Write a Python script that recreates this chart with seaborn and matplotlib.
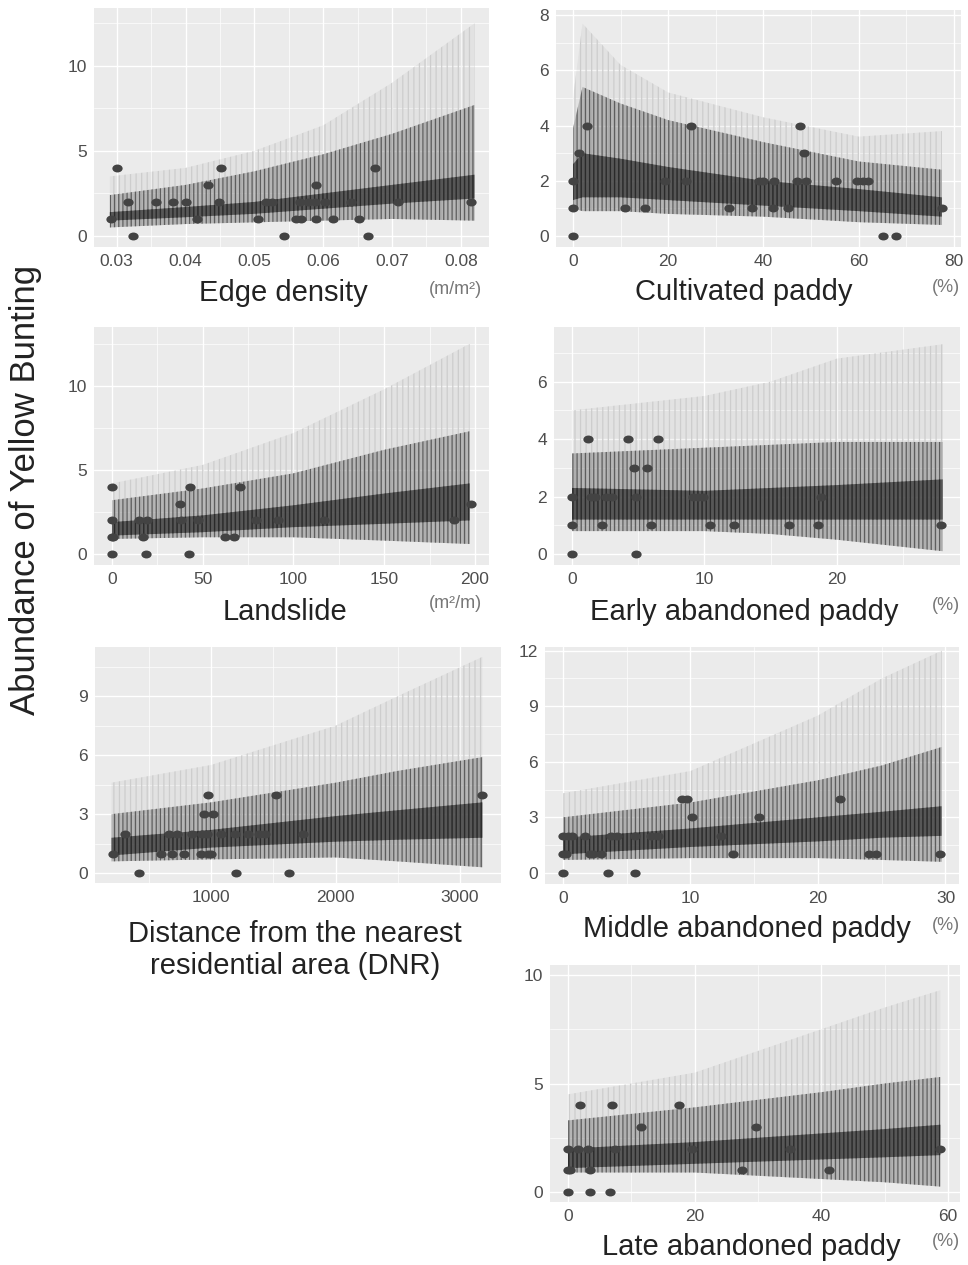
import matplotlib
matplotlib.use("Agg")
import matplotlib.pyplot as plt
from matplotlib.path import Path
from matplotlib.transforms import Affine2D
from matplotlib.ticker import AutoMinorLocator
import pandas as pd
import seaborn as sns

# ---------------------------------------------------------------
# Observed counts (points) read from the figure
# ---------------------------------------------------------------
edge_x = [0.0292, 0.0300, 0.0317, 0.0323, 0.0357, 0.0382, 0.0401, 0.0417, 0.0432, 0.0451,
          0.0449, 0.0506, 0.0517, 0.0526, 0.0543, 0.0560, 0.0568, 0.0566, 0.0578, 0.0589,
          0.0588, 0.0590, 0.0602, 0.0614, 0.0641, 0.0652, 0.0665, 0.0675, 0.0709, 0.0815]
edge_y = [1, 4, 2, 0, 2, 2, 2, 1, 3, 4,
          2, 1, 2, 2, 0, 1, 1, 2, 2, 3,
          2, 1, 2, 1, 2, 1, 0, 4, 2, 2]

cult_x = [0, 0, 0, 1.3, 2.9, 11.0, 15.2, 19.3, 23.8, 24.8, 32.7, 37.6, 39.1, 39.9,
          42.0, 42.2, 45.2, 47.0, 47.7, 48.6, 49.0, 55.3, 59.7, 60.9, 62.0, 65.1, 67.9, 77.5]
cult_y = [0, 1, 2, 3, 4, 1, 1, 2, 2, 4, 1, 1, 2, 2,
          1, 2, 1, 2, 4, 3, 2, 2, 2, 2, 2, 0, 0, 1]

land_x = [0, 0, 0, 0, 0.7, 15.1, 17.3, 19.1, 18.7, 37.5, 38.0, 42.4, 43.0, 47.6,
          62.3, 67.4, 70.5, 79.3, 91.3, 116.8, 188.4, 197.8]
land_y = [0, 1, 2, 4, 1, 2, 1, 2, 0, 3, 2, 0, 4, 2,
          1, 1, 4, 2, 2, 2, 2, 3]

early_x = [0, 0, 0, 1.2, 1.4, 1.7, 2.3, 2.6, 3.0, 4.2, 4.65, 4.8, 4.8, 5.7, 6.0, 6.5,
           9.1, 9.5, 9.9, 10.4, 12.2, 16.35, 18.6, 18.8, 27.9]
early_y = [0, 1, 2, 4, 2, 2, 1, 2, 2, 4, 3, 2, 0, 3, 1, 4,
           2, 2, 2, 1, 1, 1, 1, 2, 1]

dnr_x = [216, 312, 424, 601, 660, 684, 724, 786, 845, 922, 925, 944, 965, 979, 979,
         1013, 1003, 1078, 1201, 1193, 1300, 1388, 1434, 1522, 1627, 1737, 3179]
dnr_y = [1, 2, 0, 1, 2, 1, 2, 1, 2, 1, 2, 3, 2, 4, 1,
         3, 1, 2, 0, 2, 2, 2, 2, 4, 0, 2, 4]

mid_x = [0, 0, 0, 0.26, 0.4, 0.73, 1.75, 2.1, 2.35, 3.0, 3.5, 3.8, 4.25, 5.65, 5.65,
         6.9, 7.45, 9.35, 9.7, 10.1, 12.4, 13.3, 15.4, 21.7, 24.0, 24.55, 29.6]
mid_y = [0, 1, 2, 1, 2, 2, 2, 1, 1, 1, 0, 2, 2, 0, 2,
         2, 2, 4, 4, 3, 2, 1, 3, 4, 1, 1, 1]

late_x = [0, 0, 0.26, 0, 1.6, 1.85, 3.2, 3.4, 3.4, 6.7, 7.0, 7.4, 11.6, 17.5,
          19.6, 27.5, 29.7, 35.1, 41.2, 58.8]
late_y = [0, 1, 1, 2, 2, 4, 2, 1, 0, 0, 4, 2, 3, 4,
          2, 1, 3, 2, 1, 2]

# ---------------------------------------------------------------
# Predicted band envelopes (lower edge, core band, spike tops)
# ---------------------------------------------------------------
edge_bx = [0.029, 0.04, 0.05, 0.06, 0.07, 0.082]
edge_low = [0.5, 0.7, 0.8, 0.9, 1.0, 0.9]
edge_clo = [0.9, 1.1, 1.3, 1.6, 1.9, 2.2]
edge_chi = [1.4, 1.7, 2.0, 2.5, 3.0, 3.6]
edge_dtop = [2.4, 3.0, 3.8, 4.8, 6.0, 7.7]
edge_ftop = [3.5, 4.0, 5.0, 6.5, 9.0, 12.5]

cult_bx = [0, 2, 10, 20, 40, 60, 77.5]
cult_low = [1.0, 0.9, 0.9, 0.8, 0.7, 0.5, 0.4]
cult_clo = [1.3, 1.4, 1.4, 1.3, 1.1, 0.9, 0.7]
cult_chi = [2.6, 3.0, 2.8, 2.5, 2.0, 1.7, 1.4]
cult_dtop = [3.9, 5.4, 4.8, 4.2, 3.4, 2.7, 2.4]
cult_ftop = [5.0, 7.7, 6.2, 5.2, 4.3, 3.6, 3.8]

land_bx = [0, 50, 100, 150, 197]
land_low = [0.9, 1.0, 1.0, 0.8, 0.6]
land_clo = [1.1, 1.3, 1.6, 1.8, 2.0]
land_chi = [1.9, 2.3, 2.9, 3.6, 4.2]
land_dtop = [3.2, 3.9, 4.8, 6.2, 7.3]
land_ftop = [4.2, 5.3, 7.2, 9.8, 12.5]

early_bx = [0, 10, 15, 20, 28]
early_low = [0.8, 0.8, 0.7, 0.5, 0.1]
early_clo = [1.2, 1.2, 1.2, 1.2, 1.2]
early_chi = [2.3, 2.2, 2.3, 2.4, 2.6]
early_dtop = [3.5, 3.7, 3.8, 3.9, 3.9]
early_ftop = [5.0, 5.5, 6.0, 6.8, 7.3]

dnr_bx = [200, 1000, 2000, 2500, 3180]
dnr_low = [0.6, 0.7, 0.8, 0.6, 0.3]
dnr_clo = [0.9, 1.3, 1.6, 1.7, 1.8]
dnr_chi = [1.8, 2.2, 2.9, 3.2, 3.6]
dnr_dtop = [3.0, 3.6, 4.6, 5.2, 5.9]
dnr_ftop = [4.6, 5.5, 7.5, 9.0, 11.0]

mid_bx = [0, 10, 20, 25, 29.7]
mid_low = [0.7, 0.8, 0.8, 0.7, 0.6]
mid_clo = [1.0, 1.4, 1.7, 1.9, 2.0]
mid_chi = [1.9, 2.4, 3.0, 3.3, 3.6]
mid_dtop = [3.0, 3.8, 5.0, 5.8, 6.8]
mid_ftop = [4.3, 5.5, 8.5, 10.5, 12.0]

late_bx = [0, 20, 40, 50, 58.8]
late_low = [0.9, 0.9, 0.6, 0.45, 0.25]
late_clo = [1.1, 1.3, 1.5, 1.6, 1.7]
late_chi = [2.0, 2.3, 2.7, 2.9, 3.1]
late_dtop = [3.3, 3.9, 4.6, 5.0, 5.3]
late_ftop = [4.5, 5.5, 7.5, 8.5, 9.3]

# ---------------------------------------------------------------
# Axis titles, units and ticks
# ---------------------------------------------------------------
titles = ["Edge density", "Cultivated paddy", "Landslide", "Early abandoned paddy",
          "Distance from the nearest\nresidential area (DNR)", "Middle abandoned paddy",
          "Late abandoned paddy"]
units = ["(m/m²)", "(%)", "(m²/m)", "(%)", "", "(%)", "(%)"]

edge_xticks = [0.03, 0.04, 0.05, 0.06, 0.07, 0.08]
edge_xlabels = ["0.03", "0.04", "0.05", "0.06", "0.07", "0.08"]
cult_xticks = [0, 20, 40, 60, 80]
land_xticks = [0, 50, 100, 150, 200]
early_xticks = [0, 10, 20]
dnr_xticks = [1000, 2000, 3000]
mid_xticks = [0, 10, 20, 30]
late_xticks = [0, 20, 40, 60]

edge_yticks = [0, 5, 10]
cult_yticks = [0, 2, 4, 6, 8]
land_yticks = [0, 5, 10]
early_yticks = [0, 2, 4, 6]
dnr_yticks = [0, 3, 6, 9]
mid_yticks = [0, 3, 6, 9, 12]
late_yticks = [0, 5, 10]

# ---------------------------------------------------------------
# Style (ggplot-like grey panels)
# ---------------------------------------------------------------
sns.set_theme(style="darkgrid", rc={
    "axes.facecolor": "#EBEBEB",
    "grid.color": "white",
    "grid.linewidth": 1.0,
    "axes.edgecolor": "none",
})
plt.rcParams["font.family"] = ["Liberation Sans", "DejaVu Sans"]
plt.rcParams["hatch.linewidth"] = 0.9

W, H = 968, 1265
fig = plt.figure(figsize=(W / 100, H / 100), dpi=100)


def box(l, r, t, b):
    return [l / W, 1 - b / H, (r - l) / W, (b - t) / H]


pt_marker = Affine2D().scale(1.3, 1.0).transform_path(Path.unit_circle())

panels = [
    dict(rect=box(94, 489, 8, 247), px=edge_x, py=edge_y, bx=edge_bx, low=edge_low,
         clo=edge_clo, chi=edge_chi, dtop=edge_dtop, ftop=edge_ftop,
         xlim=(0.0267, 0.0841), ylim=(-0.65, 13.4), xt=edge_xticks, xl=edge_xlabels, yt=edge_yticks),
    dict(rect=box(556, 961, 10, 247), px=cult_x, py=cult_y, bx=cult_bx, low=cult_low,
         clo=cult_clo, chi=cult_chi, dtop=cult_dtop, ftop=cult_ftop,
         xlim=(-3.57, 81.5), ylim=(-0.4, 8.19), xt=cult_xticks, xl=None, yt=cult_yticks),
    dict(rect=box(94, 489, 327, 565), px=land_x, py=land_y, bx=land_bx, low=land_low,
         clo=land_clo, chi=land_chi, dtop=land_dtop, ftop=land_ftop,
         xlim=(-9.9, 207.7), ylim=(-0.65, 13.5), xt=land_xticks, xl=None, yt=land_yticks),
    dict(rect=box(554, 960, 327, 565), px=early_x, py=early_y, bx=early_bx, low=early_low,
         clo=early_clo, chi=early_chi, dtop=early_dtop, ftop=early_ftop,
         xlim=(-1.36, 29.3), ylim=(-0.38, 7.9), xt=early_xticks, xl=None, yt=early_yticks),
    dict(rect=box(95, 501, 647, 883), px=dnr_x, py=dnr_y, bx=dnr_bx, low=dnr_low,
         clo=dnr_clo, chi=dnr_chi, dtop=dnr_dtop, ftop=dnr_ftop,
         xlim=(68, 3329), ylim=(-0.5, 11.5), xt=dnr_xticks, xl=None, yt=dnr_yticks),
    dict(rect=box(545, 959, 647, 884), px=mid_x, py=mid_y, bx=mid_bx, low=mid_low,
         clo=mid_clo, chi=mid_chi, dtop=mid_dtop, ftop=mid_ftop,
         xlim=(-1.41, 31.06), ylim=(-0.6, 12.2), xt=mid_xticks, xl=None, yt=mid_yticks),
    dict(rect=box(550, 960, 965, 1202), px=late_x, py=late_y, bx=late_bx, low=late_low,
         clo=late_clo, chi=late_chi, dtop=late_dtop, ftop=late_ftop,
         xlim=(-2.84, 61.9), ylim=(-0.46, 10.46), xt=late_xticks, xl=None, yt=late_yticks),
]

# caption centre positions (pixels) for the x-axis titles and units
title_pos = [(283, 293), (744, 292), (285, 612), (744, 612), (295, 950), (747, 929), (751, 1247)]
unit_pos = [(455, 290), (946, 288), (455, 603), (946, 606), (0, 0), (946, 925), (946, 1242)]

for i, p in enumerate(panels):
    ax = fig.add_axes(p["rect"])
    # prediction band: faint spikes, darker spikes, dense core (hatch gives the spiky look)
    ax.fill_between(p["bx"], p["low"], p["ftop"], facecolor=(0.45, 0.45, 0.45, 0.07),
                    edgecolor="#cdcdcd", hatch="|||", lw=0, zorder=1)
    ax.fill_between(p["bx"], p["low"], p["dtop"], facecolor=(0.55, 0.55, 0.55, 0.5),
                    edgecolor="#5e5e5e", hatch="||||", lw=0, zorder=2)
    ax.fill_between(p["bx"], p["clo"], p["chi"], facecolor=(0.22, 0.22, 0.22, 0.75),
                    edgecolor="#2a2a2a", hatch="||||", lw=0, zorder=3)

    df = pd.DataFrame({"x": p["px"], "y": p["py"]})
    sns.scatterplot(data=df, x="x", y="y", ax=ax, color="#434343", marker=pt_marker,
                    s=55, linewidth=0, zorder=4)

    ax.set_xlim(*p["xlim"])
    ax.set_ylim(*p["ylim"])
    ax.set_xticks(p["xt"])
    if p["xl"] is not None:
        ax.set_xticklabels(p["xl"])
    ax.set_yticks(p["yt"])
    ax.xaxis.set_minor_locator(AutoMinorLocator(2))
    ax.yaxis.set_minor_locator(AutoMinorLocator(2))
    ax.grid(which="major", color="white", linewidth=1.0)
    ax.grid(which="minor", color="white", linewidth=0.5)
    ax.tick_params(axis="both", which="major", labelsize=12.5, labelcolor="#4d4d4d",
                   length=3, color="#4d4d4d", pad=2)
    ax.tick_params(axis="both", which="minor", length=0)
    ax.set_xlabel("")
    ax.set_ylabel("")

    tx, ty = title_pos[i]
    fig.text(tx / W, 1 - ty / H, titles[i], ha="center", va="center", fontsize=21,
             color="#222222", linespacing=1.15)
    if units[i]:
        ux, uy = unit_pos[i]
        fig.text(ux / W, 1 - uy / H, units[i], ha="center", va="center", fontsize=13,
                 color="#777777")

fig.text(26 / W, 1 - 490 / H, "Abundance of Yellow Bunting", rotation=90,
         ha="center", va="center", fontsize=25, color="#222222")

fig.savefig("out.png", dpi=100)
